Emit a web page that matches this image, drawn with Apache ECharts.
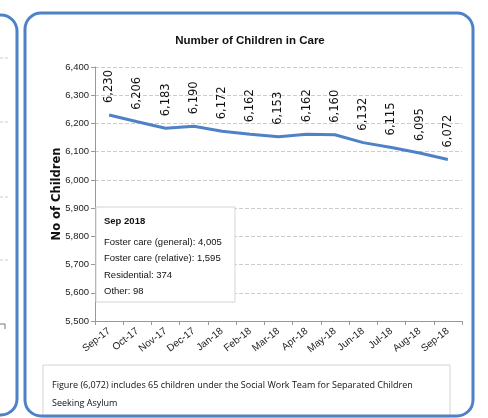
<!DOCTYPE html>
<html><head><meta charset="utf-8">
<script src="https://cdn.jsdelivr.net/npm/echarts@6/dist/echarts.min.js"></script>
<style>html,body{margin:0;padding:0;background:#fff}#c{width:488px;height:418px}</style>
</head><body><div id="c"></div>
<script>
const months = ['Sep-17','Oct-17','Nov-17','Dec-17','Jan-18','Feb-18','Mar-18','Apr-18','May-18','Jun-18','Jul-18','Aug-18','Sep-18'];
const children = [6230,6206,6183,6190,6172,6162,6153,6162,6160,6132,6115,6095,6072];
const yTicks = {min:5500, max:6400, step:100};
const breakdownTitle = 'Sep 2018';
const breakdownLines = ['Foster care (general): 4,005','Foster care (relative): 1,595','Residential: 374','Other: 98'];
const footnoteLines = ['Figure (6,072) includes 65 children under the Social Work Team for Separated Children','Seeking Asylum'];

const blue = '#4f81c7';
const fmt = v => v.toLocaleString('en-US');
const chart = echarts.init(document.getElementById('c'));
chart.setOption({
  animation:false,
  title:{text:'Number of Children in Care', left:245, top:30, textAlign:'center',
    textStyle:{fontFamily:'Liberation Sans', fontSize:11.5, fontWeight:'bold', color:'#111'}},
  grid:{left:95, right:26, top:67, bottom:97},
  xAxis:{type:'category', data:months, boundaryGap:true,
    axisLine:{lineStyle:{color:'#999'}}, axisTick:{show:true, alignWithLabel:false, length:4, lineStyle:{color:'#999'}},
    axisLabel:{rotate:38, fontFamily:'Liberation Sans', fontSize:10, color:'#222', margin:9, interval:0}},
  yAxis:{type:'value', min:yTicks.min, max:yTicks.max, interval:yTicks.step,
    name:'No of Children', nameLocation:'middle', nameGap:32, nameRotate:90, nameMoveOverlap:false,
    nameTextStyle:{fontFamily:'DejaVu Sans', fontSize:11.5, fontWeight:'bold', color:'#111'},
    axisLine:{show:true, lineStyle:{color:'#999'}}, axisTick:{show:true, length:4, lineStyle:{color:'#999'}},
    axisLabel:{formatter:v=>fmt(v), fontFamily:'Liberation Sans', fontSize:9.5, color:'#222', margin:6},
    splitLine:{lineStyle:{type:'dashed', color:'#ccc'}}},
  series:[{type:'line', data:children, symbol:'circle', symbolSize:0.01, showSymbol:true,
    itemStyle:{color:blue}, lineStyle:{color:blue, width:3},
    label:{show:true, position:'top', distance:12, rotate:90, align:'left', verticalAlign:'middle',
      formatter:p=>fmt(p.value), fontFamily:'DejaVu Sans', fontSize:11.5, color:'#111'}},
  ],
  graphic:[
    {type:'rect', shape:{x:-100, y:15, width:117, height:400, r:16}, style:{fill:'none', stroke:blue, lineWidth:3}, z:10},
    {type:'rect', shape:{x:25, y:13, width:448, height:403, r:16}, style:{fill:'none', stroke:blue, lineWidth:3}, z:10},
    {type:'line', shape:{x1:0,y1:58,x2:10,y2:58}, style:{stroke:'#ccc', lineDash:[3,2]}},
    {type:'line', shape:{x1:0,y1:122,x2:10,y2:122}, style:{stroke:'#ccc', lineDash:[3,2]}},
    {type:'line', shape:{x1:0,y1:197,x2:10,y2:197}, style:{stroke:'#ccc', lineDash:[3,2]}},
    {type:'line', shape:{x1:0,y1:260,x2:10,y2:260}, style:{stroke:'#ccc', lineDash:[3,2]}},
    {type:'polyline', shape:{points:[[0,324],[5,324],[5,329]]}, style:{stroke:'#777', fill:'none'}},
    {type:'rect', shape:{x:96, y:207, width:139, height:95}, style:{fill:'#fff', stroke:'#d4d4d4', lineWidth:1}, z:5},
    {type:'text', x:104, y:216, z:6, style:{text:breakdownTitle, fontFamily:'Liberation Sans', fontSize:9.5, fontWeight:'bold', fill:'#111'}},
    {type:'text', x:104, y:234, z:6, style:{text:breakdownLines.join('\n'), lineHeight:16.5, fontFamily:'Liberation Sans', fontSize:9.5, fill:'#111'}},
    {type:'rect', shape:{x:43, y:365, width:407, height:52}, style:{fill:'#fff', stroke:'#d4d4d4', lineWidth:1}, z:5},
    {type:'text', x:52, y:376, z:6, style:{text:footnoteLines.join('\n'), lineHeight:18, fontFamily:'Open Sans', fontSize:9, fill:'#111'}}
  ]
});
</script></body></html>
